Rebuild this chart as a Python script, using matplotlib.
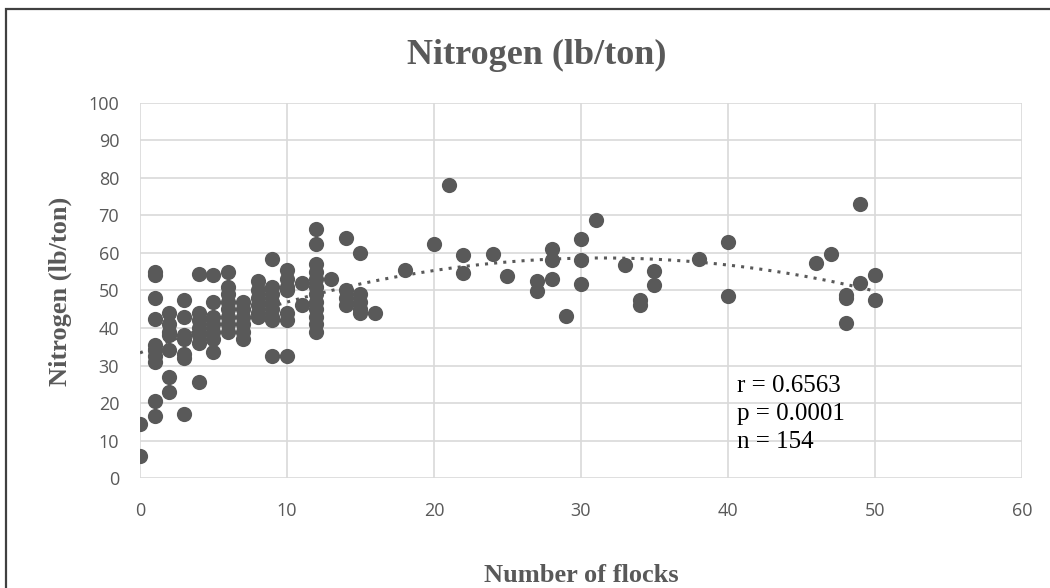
import numpy as np
import matplotlib.pyplot as plt
from matplotlib.patches import Rectangle

flocks = (
    [0] * 2 + [1] * 10 + [2] * 7 + [3] * 7 + [4] * 7 + [5] * 7 + [6] * 8
    + [7] * 6 + [8] * 6 + [9] * 8 + [10] * 7 + [11] * 2 + [12] * 12 + [13]
    + [14] * 4 + [15] * 5 + [16]
    + [18, 20, 21, 22, 22, 24, 25, 27, 27, 28, 28, 28, 29, 30, 30, 30, 31, 33,
       34, 34, 35, 35, 38, 40, 40, 46, 47, 48, 48, 48, 49, 49, 50, 50]
)
nitrogen = (
    [14.5, 6]
    + [55, 54, 48, 42.5, 35.5, 34, 32.5, 31, 20.5, 16.5]
    + [44, 41, 39, 38, 34, 27, 23]
    + [47.5, 43, 38, 37, 33, 32, 17]
    + [54.5, 44, 42, 40, 38, 36, 25.5]
    + [54, 47, 43, 41, 39, 37, 33.5]
    + [55, 51, 49, 47, 45, 43, 41, 39]
    + [47, 45, 43, 41, 39, 37]
    + [52.5, 50, 48, 46, 44, 43]
    + [58.5, 51, 49, 47, 45, 43, 42, 32.5]
    + [55.5, 53, 51, 50, 44, 42, 32.5]
    + [52, 46]
    + [66.5, 62.5, 57, 55, 53, 51, 49, 47, 45, 43, 41, 39]
    + [53]
    + [64, 50, 48, 46]
    + [60, 49, 47, 45, 44]
    + [44]
    + [55.5, 62.5, 78, 59.5, 54.7, 59.7, 53.8, 52.6, 49.8, 61, 58, 53, 43.2,
       63.7, 58, 51.7, 68.8, 56.8, 47.5, 46, 55.2, 51.5, 58.4, 62.9, 48.5,
       57.3, 59.7, 48.8, 48, 41.3, 73, 52, 54.1, 47.5]
)
stats_lines = ['r = 0.6563', 'p = 0.0001', 'n = 154']

grey = '#595959'

fig = plt.figure(figsize=(10.5, 5.88), dpi=100)
ax = fig.add_axes([0.1333, 0.187, 0.84, 0.638])

ax.scatter(flocks, nitrogen, s=120, color=grey, zorder=3, linewidths=0)

# second order polynomial trendline
coef = np.polyfit(flocks, nitrogen, 2)
xs = np.linspace(0, 50, 200)
ax.plot(xs, np.polyval(coef, xs), color=grey, linestyle=(0, (1, 2)),
        linewidth=2.2, zorder=2)

ax.set_xlim(0, 60)
ax.set_ylim(0, 100)
ax.set_xticks(np.arange(0, 61, 10))
ax.set_yticks(np.arange(0, 101, 10))
ax.grid(True, color='#d9d9d9', linewidth=1.2, zorder=0)
ax.set_axisbelow(True)
for s in ax.spines.values():
    s.set_visible(False)
ax.tick_params(length=0, labelsize=13, labelcolor=grey)
ax.tick_params(axis='y', pad=15)
ax.tick_params(axis='x', pad=17)
for lab in ax.get_xticklabels() + ax.get_yticklabels():
    lab.set_family('Open Sans')

fig.text(0.511, 0.906, 'Nitrogen (lb/ton)', fontsize=26, fontweight='bold',
         family='Liberation Serif', color=grey, ha='center', va='center')
fig.text(0.554, 0.022, 'Number of flocks', fontsize=19, fontweight='bold',
         family='Liberation Serif', color=grey, ha='center', va='center')
fig.text(0.057, 0.505, 'Nitrogen (lb/ton)', fontsize=19, fontweight='bold',
         family='Liberation Serif', color=grey, ha='center', va='center',
         rotation=90)

ax.text(40.6, 27.5, '\n'.join(stats_lines), fontsize=18,
        family='Liberation Serif', color='black', va='top', linespacing=1.36)

fig.patches.append(Rectangle((0.006, -0.02), 0.998, 1.004, transform=fig.transFigure,
                             fill=False, edgecolor='#404040', linewidth=1.6))

fig.savefig('out.png', dpi=100)
